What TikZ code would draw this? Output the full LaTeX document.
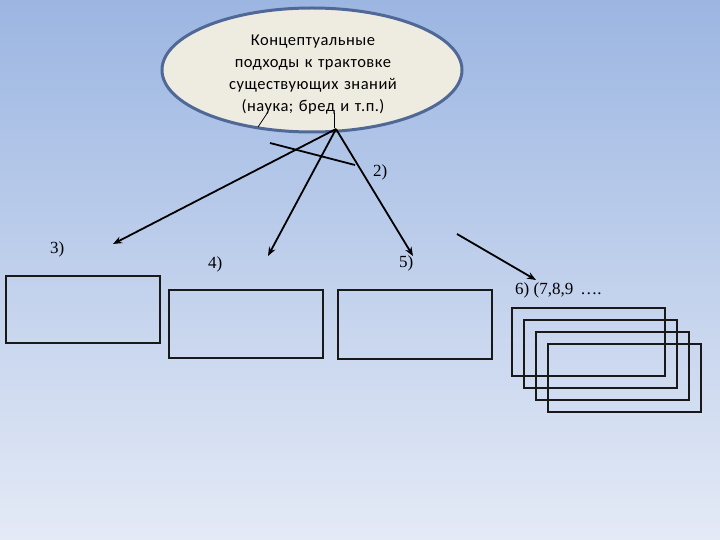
\documentclass[tikz,border=0pt]{standalone}
\usepackage{fontspec}
\setmainfont{Liberation Serif}
\newfontfamily\calfont[LetterSpace=3]{Carlito}
\usetikzlibrary{arrows.meta,shapes.geometric}
\definecolor{bgtop}{RGB}{156,182,226}
\definecolor{bgbot}{RGB}{228,234,246}
\definecolor{ellfill}{RGB}{238,235,224}
\definecolor{elldraw}{RGB}{80,104,150}
\definecolor{thin}{RGB}{120,170,200}
\tikzset{
  arr/.style={line width=1.8pt,-{Stealth[length=9pt,width=7pt]}},
  box/.style={draw=black!90,line width=2.4pt},
  lbl/.style={font=\fontsize{17}{19}\selectfont,inner sep=0pt,anchor=west},
}
\begin{document}
\begin{tikzpicture}[x=1pt,y=-1pt]
\useasboundingbox (0,0) rectangle (720,540);
\shade[top color=bgtop,bottom color=bgbot] (0,0) rectangle (720,540);
% ellipse
\node[ellipse,draw=elldraw,line width=3pt,fill=ellfill,minimum width=300pt,minimum height=124pt,inner sep=0pt] (ell) at (312,70) {};
\node[font=\calfont\fontsize{16.5}{22}\selectfont,align=center,text width=260pt] (title) at (313,75)
  {Концептуальные\\подходы к трактовке\\существующих знаний\\(наука; бред и т.п.)};
% thin artifact lines
\coordinate (t1a) at (258,127); \coordinate (t1b) at (268,112);
\coordinate (t2a) at (334,113); \coordinate (t2b) at (334,128);
\draw[thin,line width=0.8pt] (t1a) -- (t1b);
\draw[thin,line width=0.8pt] (t2a) -- (t2b);
% boxes
\node[box,minimum width=154pt,minimum height=67pt,anchor=north west] (b3) at (5,275) {};
\node[box,minimum width=154pt,minimum height=68pt,anchor=north west] (b4) at (168,289) {};
\node[box,minimum width=154pt,minimum height=69pt,anchor=north west] (b5) at (337,289) {};
\node[box,minimum width=153pt,minimum height=68pt,anchor=north west] (s1) at (511,307) {};
\node[box,minimum width=153pt,minimum height=68pt,anchor=north west] (s2) at (523,319) {};
\node[box,minimum width=153pt,minimum height=68pt,anchor=north west] (s3) at (535,331) {};
\node[box,minimum width=153pt,minimum height=68pt,anchor=north west] (s4) at (547,343) {};
% labels
\node[lbl] (l2) at (373,172) {2)};
\node[lbl] (l3) at (50,249) {3)};
\node[lbl] (l4) at (208,264) {4)};
\node[lbl] (l5) at (399,263) {5)};
\node[lbl] (l6) at (515,290) {6) (7,8,9 \,\dots.};
% arrows
\coordinate (apex) at (336,129);
\coordinate (e3) at (113,244);
\coordinate (e4) at (268,256);
\coordinate (e5) at (413,256);
\coordinate (x1) at (270,143); \coordinate (x2) at (355,165);
\coordinate (s6a) at (457,234); \coordinate (s6b) at (536,280);
\draw[arr] (apex) -- (e3);
\draw[arr] (apex) -- (e4);
\draw[arr] (apex) -- (e5);
\draw[line width=1.8pt] (x1) -- (x2);
\draw[arr] (s6a) -- (s6b);
\end{tikzpicture}
\end{document}
